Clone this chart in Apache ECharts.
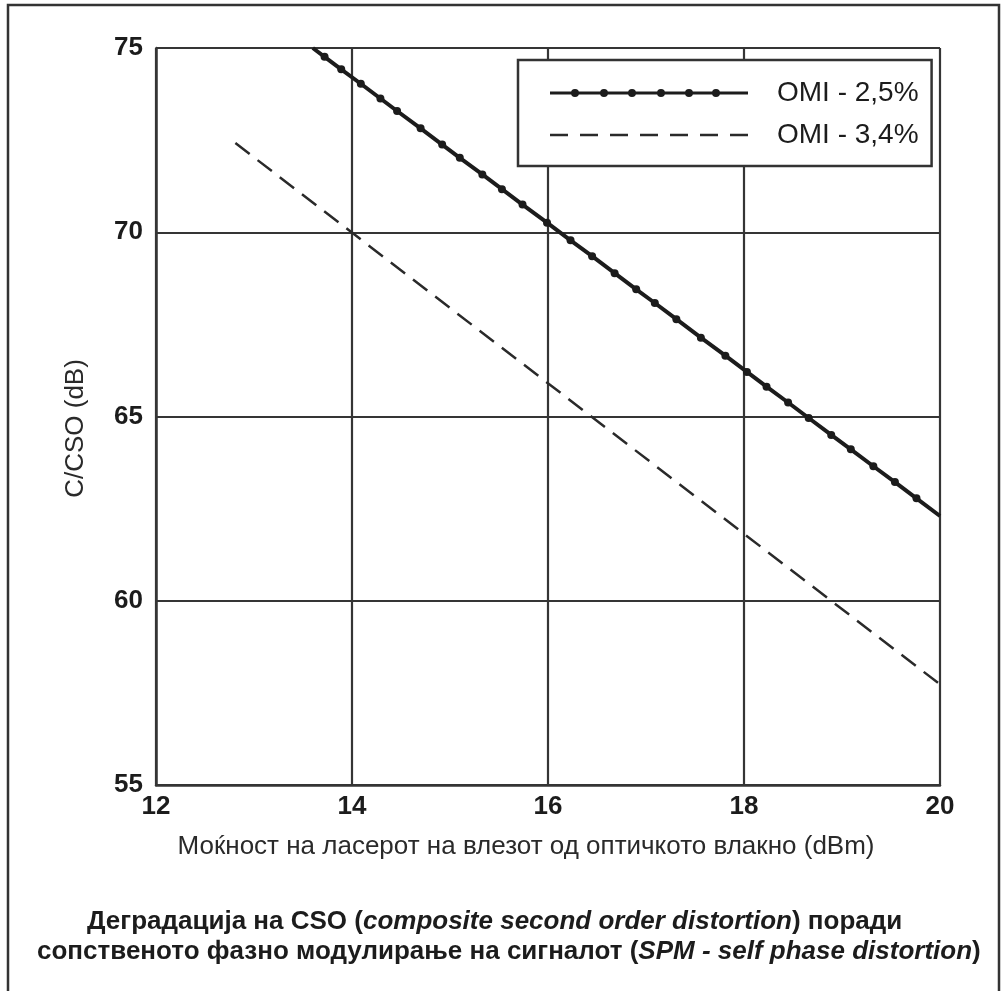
<!DOCTYPE html>
<html>
<head>
<meta charset="utf-8">
<script src="https://cdn.jsdelivr.net/npm/echarts@6/dist/echarts.min.js"></script>
<style>
  html, body { margin: 0; padding: 0; background: #ffffff; }
  #chart { width: 1006px; height: 991px; }
</style>
</head>
<body>
<div id="chart"></div>
<script>
// ---- data ----
const xTicks = [12, 14, 16, 18, 20];
const yTicks = [55, 60, 65, 70, 75];

const seriesNames = ['OMI - 2,5%', 'OMI - 3,4%'];

// OMI 2.5 %: line end points plus the dot markers along it
const omi25X = [13.6, 13.72, 13.89, 14.09, 14.29, 14.46, 14.70, 14.92, 15.10, 15.33, 15.53,
  15.74, 15.99, 16.23, 16.45, 16.68, 16.90, 17.09, 17.31, 17.56, 17.81, 18.03, 18.23,
  18.45, 18.66, 18.89, 19.09, 19.32, 19.54, 19.76, 20.0];
const omi25Y = [75.0, 74.76, 74.42, 74.03, 73.63, 73.29, 72.82, 72.38, 72.02, 71.57, 71.17,
  70.75, 70.26, 69.78, 69.35, 68.89, 68.45, 68.08, 67.64, 67.14, 66.65, 66.21, 65.81,
  65.38, 64.96, 64.50, 64.11, 63.65, 63.22, 62.78, 62.30];

// OMI 3.4 %: dashed straight line
const omi34X = [12.81, 20.0];
const omi34Y = [72.42, 57.73];

const xAxisName = 'Моќност на ласерот на влезот од оптичкото влакно (dBm)';
const yAxisName = 'C/CSO (dB)';
const titleLine1 = '{b|Деградација на CSO (}{i|composite second order distortion}{b|) поради}';
const titleLine2 = '{b|сопственото фазно модулирање на сигналот (}{i|SPM - self phase distortion}{b|)}';

// ---- chart ----
const ink = '#1c1c1c';
const gridInk = '#353535';
const font = '"Liberation Sans", Arial, "DejaVu Sans", sans-serif';

const solidIcon = (function () {
  let p = 'path://M0 2.5 H198 V5.5 H0 Z';
  [25, 54, 82, 111, 139, 166].forEach(function (c) {
    p += ' M' + (c - 4) + ' 4 A4 4 0 1 1 ' + (c + 4) + ' 4 A4 4 0 1 1 ' + (c - 4) + ' 4 Z';
  });
  return p;
})();
const dashIcon = (function () {
  let p = 'path://';
  for (let k = 0; k < 7; k++) {
    const s = k * 30;
    p += 'M' + s + ' 0 H' + (s + 18) + ' V2.4 H' + s + ' Z ';
  }
  return p.trim();
})();

const last25 = omi25X.length - 1;
const omi25Data = omi25X.map(function (x, i) {
  return { value: [x, omi25Y[i]], symbol: (i === 0 || i === last25) ? 'none' : 'circle' };
});
const omi34Data = omi34X.map(function (x, i) { return [x, omi34Y[i]]; });

const chart = echarts.init(document.getElementById('chart'), null, { renderer: 'canvas' });

const boldLabel = { fontFamily: font, fontSize: 26, fontWeight: 'bold', color: ink };
const titleRich = {
  b: { fontFamily: font, fontSize: 26, fontWeight: 'bold', color: ink, lineHeight: 30 },
  i: { fontFamily: font, fontSize: 26, fontWeight: 'bold', fontStyle: 'italic', color: ink, lineHeight: 30 }
};

chart.setOption({
  animation: false,
  backgroundColor: '#ffffff',
  title: [
    {
      text: titleLine1,
      left: 87, top: 907, padding: 0,
      textStyle: { fontFamily: font, fontSize: 26, fontWeight: 'bold', color: ink, lineHeight: 30, rich: titleRich }
    },
    {
      text: titleLine2,
      left: 37, top: 937, padding: 0,
      textStyle: { fontFamily: font, fontSize: 26, fontWeight: 'bold', color: ink, lineHeight: 30, rich: titleRich }
    }
  ],
  graphic: [
    {
      type: 'rect',
      shape: { x: 8, y: 5, width: 991, height: 1020 },
      style: { fill: 'none', stroke: '#333333', lineWidth: 2.5 },
      silent: true,
      z: 100
    }
  ],
  legend: {
    orient: 'vertical',
    left: 518, top: 60,
    padding: [17, 13, 15, 32],
    itemWidth: 198, itemHeight: 8,
    itemGap: 10,
    symbolKeepAspect: true,
    selectedMode: false,
    backgroundColor: '#ffffff',
    borderColor: '#333333',
    borderWidth: 2.5,
    borderRadius: 0,
    itemStyle: { borderWidth: 0 },
    textStyle: { fontFamily: font, fontSize: 28, color: ink, lineHeight: 32, padding: [0, 0, 0, 24] },
    data: [
      { name: seriesNames[0], icon: solidIcon, itemStyle: { color: ink, borderWidth: 0 } },
      { name: seriesNames[1], icon: dashIcon, itemStyle: { color: '#2a2a2a', borderWidth: 0 } }
    ]
  },
  grid: { left: 156, right: 66, top: 48, bottom: 206, containLabel: false },
  xAxis: {
    type: 'value',
    min: xTicks[0], max: xTicks[xTicks.length - 1], interval: xTicks[1] - xTicks[0],
    name: xAxisName,
    nameLocation: 'middle',
    nameGap: 49,
    nameTextStyle: { fontFamily: font, fontSize: 26, color: '#2a2a2a', padding: [0, 44, 0, 0] },
    axisLine: { show: true, lineStyle: { color: gridInk, width: 2.5 } },
    axisTick: { show: false },
    axisLabel: Object.assign({ margin: 9 }, boldLabel),
    splitLine: { show: true, lineStyle: { color: gridInk, width: 2.2 } }
  },
  yAxis: {
    type: 'value',
    min: yTicks[0], max: yTicks[yTicks.length - 1], interval: yTicks[1] - yTicks[0],
    name: yAxisName,
    nameLocation: 'middle',
    nameRotate: 90,
    nameGap: 67,
    nameTextStyle: { fontFamily: font, fontSize: 26, color: '#2a2a2a', padding: [0, 24, 0, 0] },
    axisLine: { show: true, lineStyle: { color: gridInk, width: 2.5 } },
    axisTick: { show: false },
    axisLabel: Object.assign({ margin: 13 }, boldLabel),
    splitLine: { show: true, lineStyle: { color: gridInk, width: 2.2 } }
  },
  series: [
    {
      name: seriesNames[0],
      type: 'line',
      data: omi25Data,
      symbol: 'circle',
      symbolSize: 8,
      showSymbol: true,
      showAllSymbol: true,
      itemStyle: { color: ink, borderWidth: 0 },
      lineStyle: { color: ink, width: 4 },
      z: 5
    },
    {
      name: seriesNames[1],
      type: 'line',
      data: omi34Data,
      symbol: 'none',
      showSymbol: false,
      itemStyle: { color: '#2a2a2a' },
      lineStyle: { color: '#2a2a2a', width: 2.5, type: [18, 10] },
      z: 4
    }
  ]
});
</script>
</body>
</html>
